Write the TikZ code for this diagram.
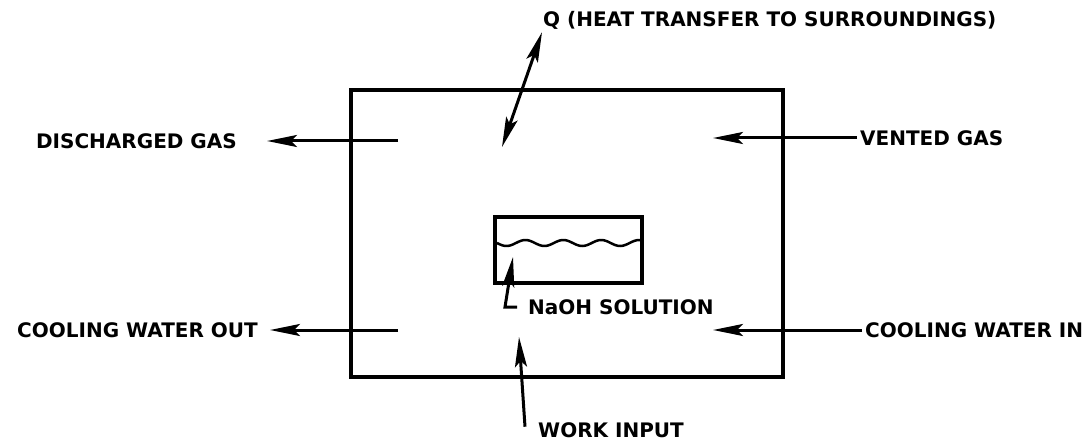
\documentclass[tikz,border=0pt]{standalone}
\usepackage{fontspec}
\setmainfont{DejaVu Sans}
\usetikzlibrary{arrows.meta,positioning}

\begin{document}
\begin{tikzpicture}[x=1pt,y=-1pt,
  lbl/.style={font=\fontsize{20}{22}\selectfont\bfseries,inner sep=3pt},
  flow/.style={line width=3pt,-{Stealth[length=30pt,width=12pt,inset=6pt]}},
  flowtwo/.style={line width=3pt,{Stealth[length=30pt,width=12pt,inset=6pt]}-{Stealth[length=30pt,width=12pt,inset=6pt]}}]
  \useasboundingbox (0,0) rectangle (1088,441);
  \node[draw,line width=4pt,minimum width=432pt,minimum height=287pt] (vessel) at (567,233.5) {};
  \node[draw,line width=3.5pt,minimum width=147pt,minimum height=66pt] (tank) at (568.5,250) {};
  \draw[line width=2.5pt] plot[domain=497:640,samples=80] (\x,{243+3*sin((\x-497)*9.5)});
  % streams
  \node[lbl,anchor=east] (dglbl) at (240,141) {DISCHARGED GAS};
  \node[lbl,anchor=west] (vglbl) at (857,138) {VENTED GAS};
  \node[lbl,anchor=east] (cwolbl) at (261,330) {COOLING WATER OUT};
  \node[lbl,anchor=west] (cwilbl) at (862,330) {COOLING WATER IN};
  \node[lbl,anchor=west] (qlbl) at (540,20) {Q (HEAT TRANSFER TO SURROUNDINGS)};
  \node[lbl,anchor=west] (nalbl) at (525,307) {NaOH SOLUTION};
  \node[lbl,anchor=base west] (wilbl) at (535,437) {WORK INPUT};
  \coordinate (dgin) at (398,141);
  \coordinate (vgin) at (713,138);
  \coordinate (cwoin) at (398,330);
  \coordinate (cwiin) at (713,330);
  \coordinate (qin) at (502,147);
  \coordinate (wiin) at (519,337);
  \coordinate (natip) at (513,257);
  \draw[flow] (dgin) -- ([xshift=27pt]dglbl.east);
  \draw[flow] (vglbl.west) -- (vgin);
  \draw[flow] (cwoin) -- ([xshift=9pt]cwolbl.east);
  \draw[flow] (cwilbl.west) -- (cwiin);
  \draw[flowtwo] (qin) -- ([xshift=2pt]qlbl.south west);
  \draw[flow] ([xshift=-10pt,yshift=3pt]wilbl.west) -- (wiin);
  \draw[flow] ([xshift=-8pt]nalbl.west) -- ++(-12,0) -- (natip);
\end{tikzpicture}
\end{document}
